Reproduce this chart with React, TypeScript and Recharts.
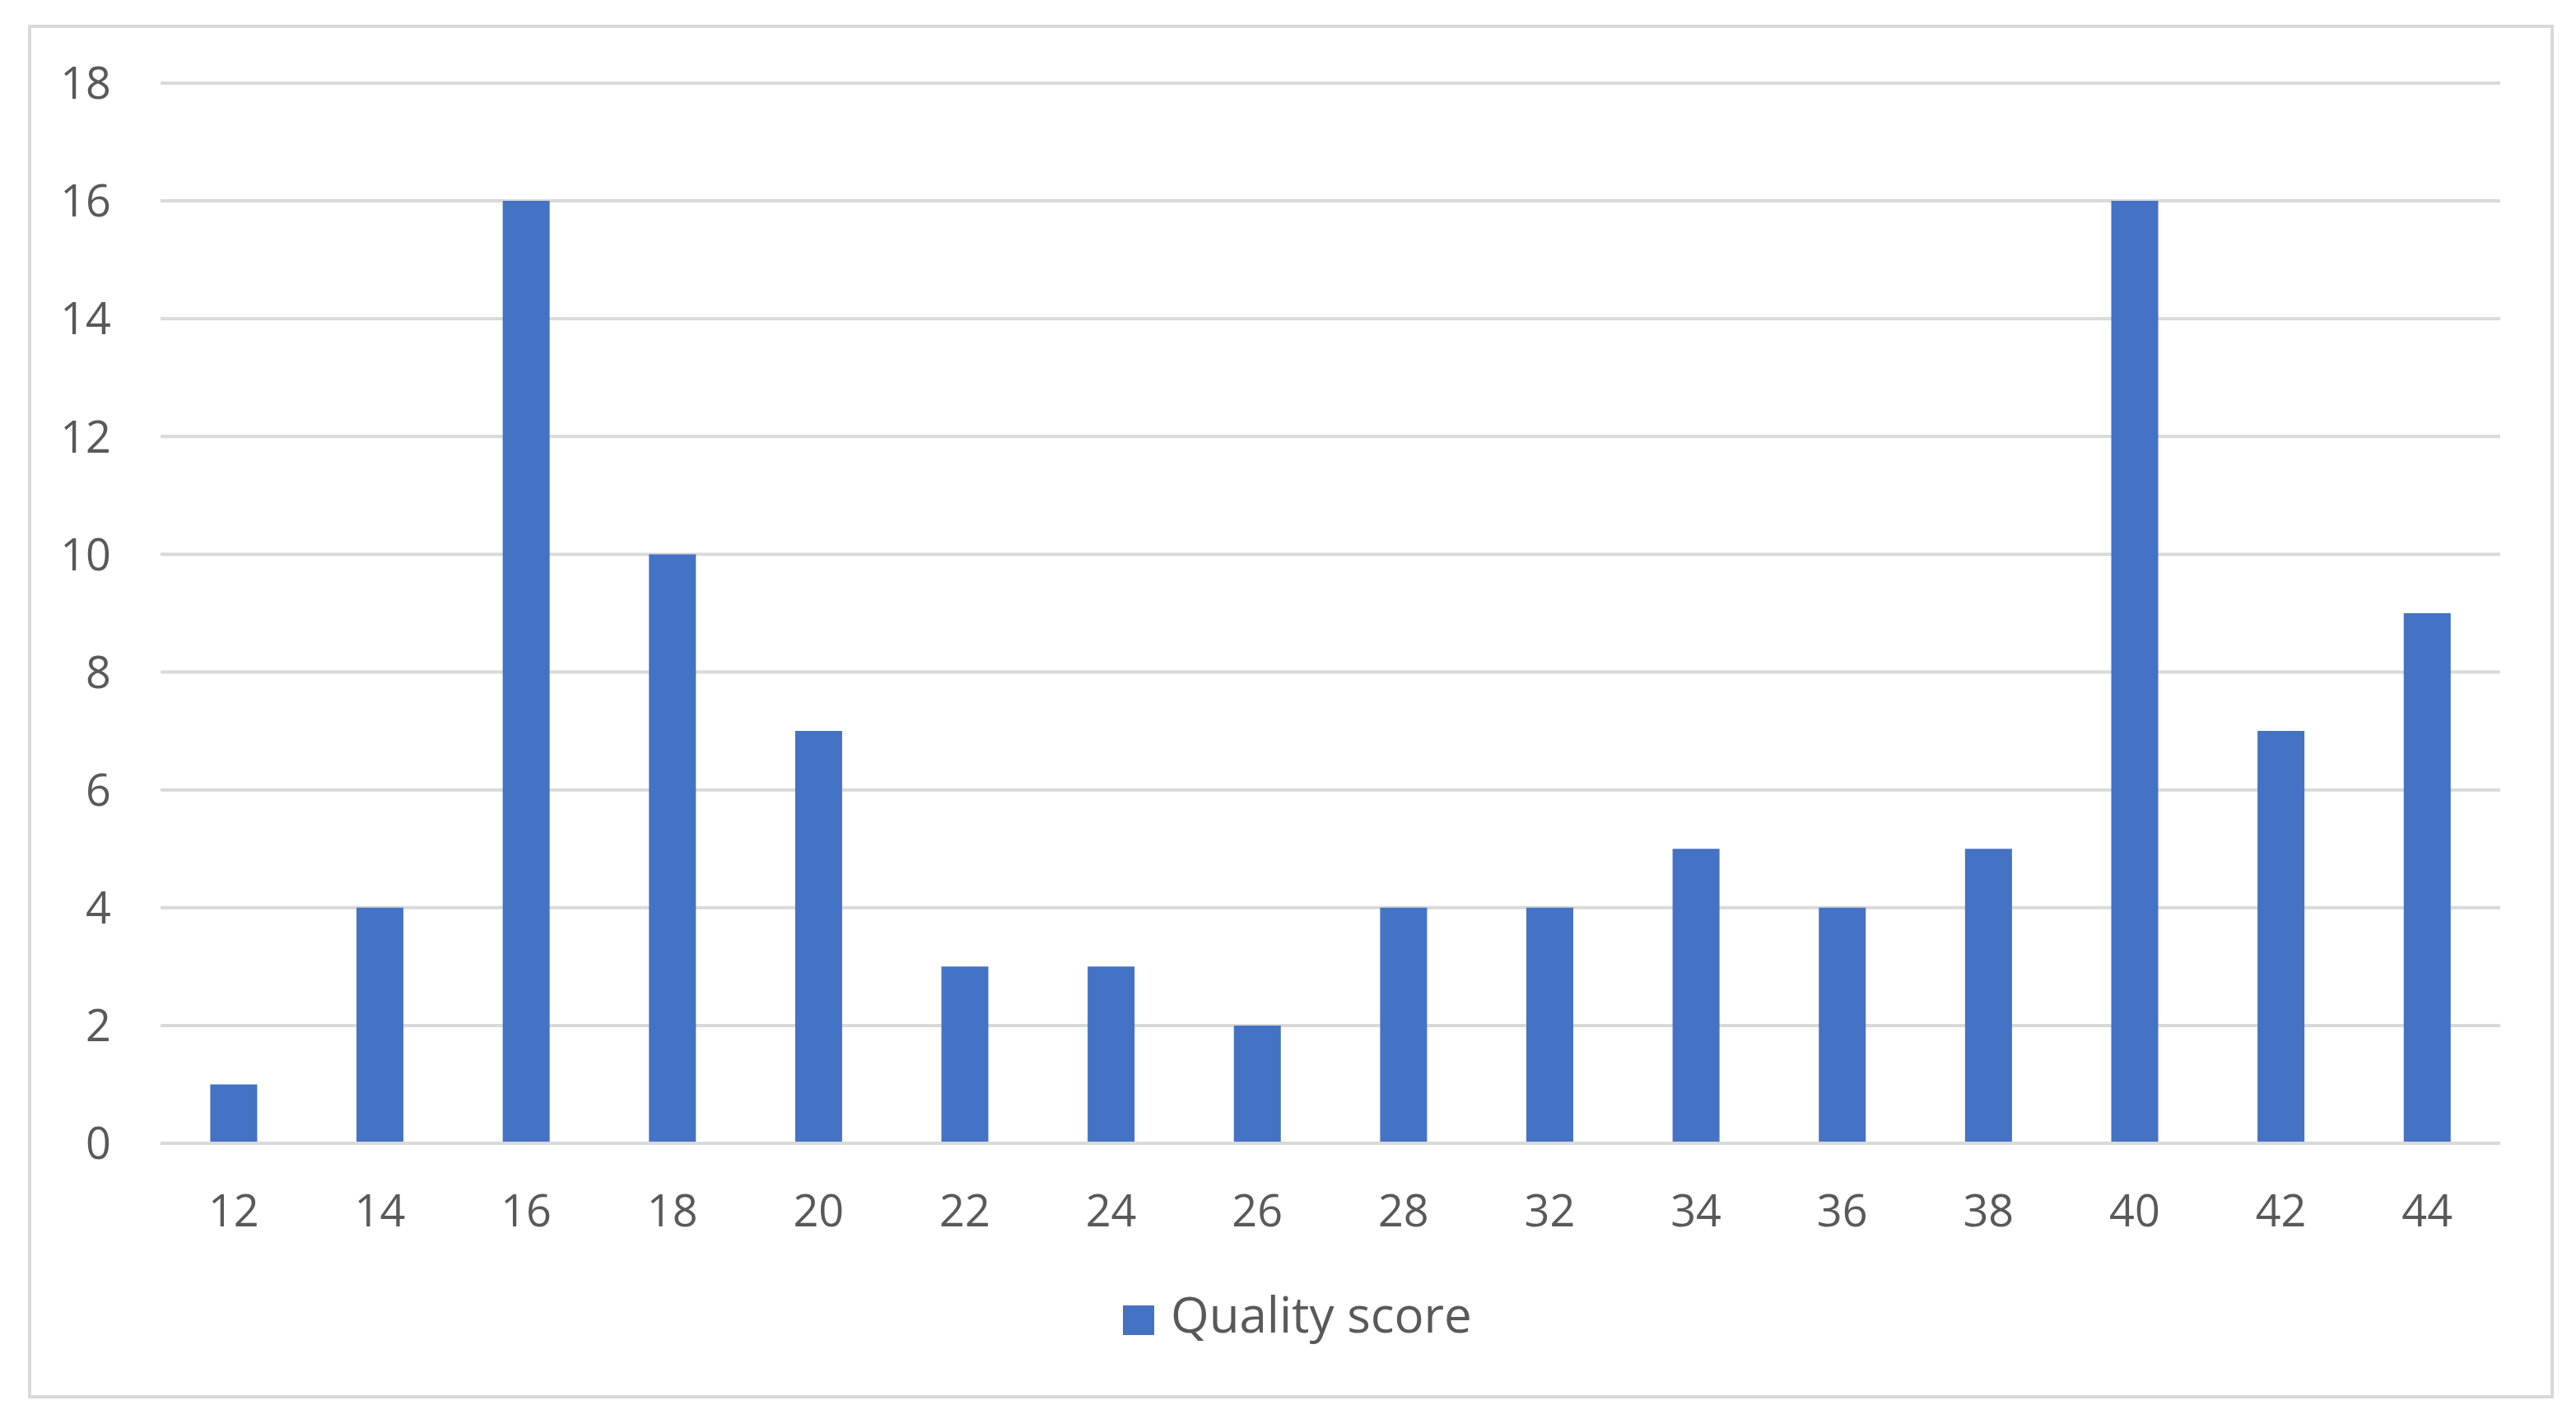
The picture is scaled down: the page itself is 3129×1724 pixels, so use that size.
import React from "react";
import { BarChart, Bar, XAxis, YAxis, CartesianGrid, Legend } from "recharts";

const scores = ["12", "14", "16", "18", "20", "22", "24", "26", "28", "32", "34", "36", "38", "40", "42", "44"];
const counts = [1, 4, 16, 10, 7, 3, 3, 2, 4, 4, 5, 4, 5, 16, 7, 9];
const yTicks = [0, 2, 4, 6, 8, 10, 12, 14, 16, 18];

const data = scores.map((score, i) => ({ score, value: counts[i] }));

const BLUE = "#4472c4";
const GRID = "#d9d9d9";
const TEXT = "#595959";

function LegendContent() {
  return (
    <div style={{ display: "flex", alignItems: "flex-start", height: 60 }}>
      <div style={{ width: 38, height: 36, marginTop: 20, background: BLUE, marginRight: 20 }} />
      <span style={{ fontSize: 60, lineHeight: "60px", color: TEXT }}>Quality score</span>
    </div>
  );
}

export default function App() {
  return (
    <div
      style={{
        position: "absolute",
        left: 0,
        top: 0,
        width: 3129,
        height: 1724,
        background: "#fff",
        fontFamily: "'Open Sans', sans-serif",
      }}
    >
      <div
        style={{
          position: "absolute",
          left: 34,
          top: 30,
          width: 3060,
          height: 1661,
          border: `4px solid ${GRID}`,
        }}
      />
      <div style={{ position: "absolute", left: 0, top: 0 }}>
        <BarChart
          width={3129}
          height={1724}
          data={data}
          margin={{ top: 101, right: 92, bottom: 305, left: 0 }}
          barCategoryGap="34%"
        >
          <CartesianGrid vertical={false} stroke={GRID} strokeWidth={4} />
          <XAxis
            dataKey="score"
            height={30}
            interval={0}
            tickLine={false}
            tickSize={0}
            tickMargin={63}
            axisLine={{ stroke: GRID, strokeWidth: 4 }}
            tick={{ fill: TEXT, fontSize: 54 }}
          />
          <YAxis
            width={195}
            domain={[0, 18]}
            ticks={yTicks}
            interval={0}
            axisLine={false}
            tickLine={false}
            tickSize={0}
            tickMargin={60}
            tick={{ fill: TEXT, fontSize: 54 }}
          />
          <Legend
            layout="horizontal"
            verticalAlign="middle"
            content={<LegendContent />}
            wrapperStyle={{ left: 1364, top: 1566, width: "auto" }}
          />
          <Bar dataKey="value" name="Quality score" fill={BLUE} isAnimationActive={false} />
        </BarChart>
      </div>
    </div>
  );
}
